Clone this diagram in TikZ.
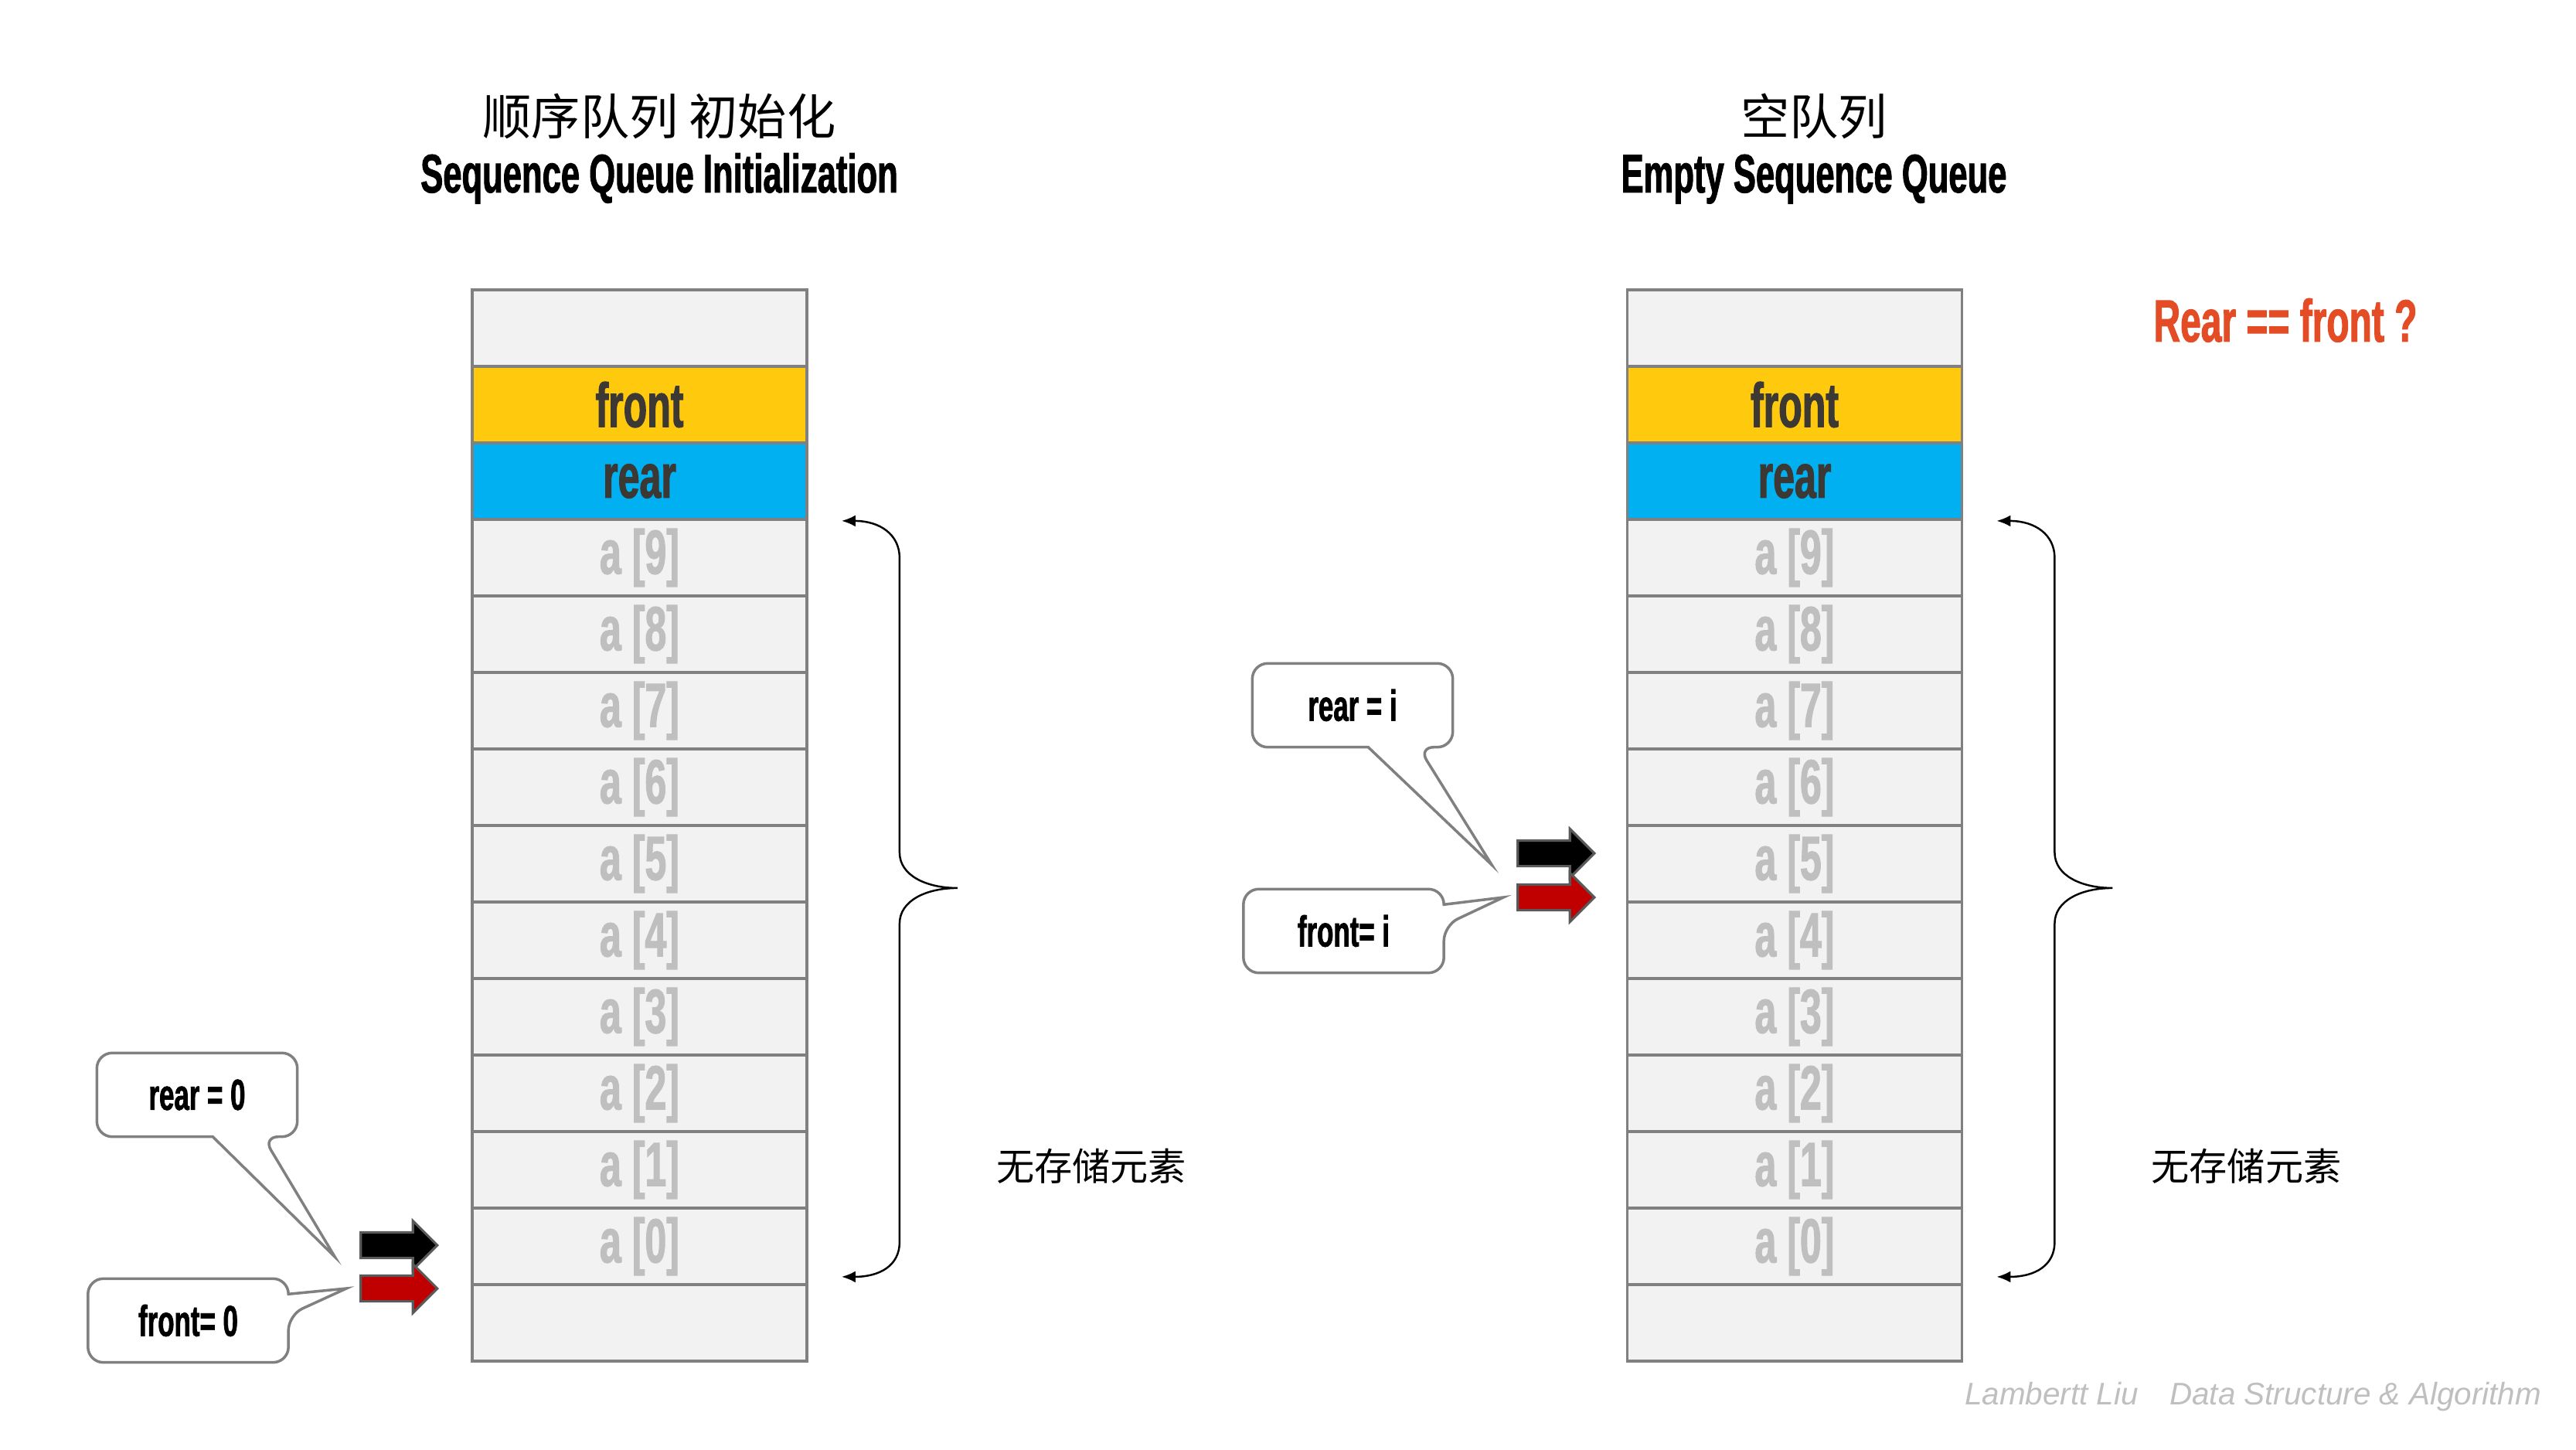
\documentclass[tikz,border=0pt]{standalone}
\usepackage{fontspec}
\usepackage{tikz}
\usetikzlibrary{shapes.arrows}
\usetikzlibrary{arrows.meta}

\newfontfamily\agency[FakeStretch=0.62,BoldFeatures={FakeBold=1.3}]{Liberation Sans}
\newfontfamily\cjk{Noto Sans CJK SC}
\newfontfamily\markfont{Liberation Sans}

\definecolor{frontyellow}{RGB}{255,201,14}
\definecolor{rearblue}{RGB}{0,176,240}
\definecolor{cellgray}{RGB}{242,242,242}
\definecolor{linegray}{RGB}{128,128,128}
\definecolor{labelgray}{RGB}{191,191,191}
\definecolor{darktext}{RGB}{60,56,52}
\definecolor{arrowred}{RGB}{192,0,0}
\definecolor{arrowedge}{RGB}{89,89,89}
\definecolor{askred}{RGB}{228,76,38}

\tikzset{
  cell/.style={draw=linegray, line width=1.1pt, fill=cellgray, minimum width=4.33cm,
    minimum height=0.99cm, inner sep=0pt, text=labelgray,
    font=\agency\bfseries\fontsize{23}{23}\selectfont},
  bubble/.style={minimum width=2.58cm, minimum height=1.07cm, inner sep=0pt,
    font=\agency\bfseries\fontsize{16}{16}\selectfont},
  callout/.style={draw=linegray, line width=1pt},
  ptr/.style={single arrow, draw=arrowedge, line width=0.9pt, inner xsep=0pt,
    inner ysep=0.15cm, single arrow head extend=0.15cm, minimum height=0.99cm, anchor=tip},
  brace/.style={line width=0.7pt, {Latex[length=0.18cm,width=0.15cm]}-{Latex[length=0.18cm,width=0.15cm]}},
}

\begin{document}
\begin{tikzpicture}
\useasboundingbox (0,0) rectangle (33.33,18.75);

% titles
\node[font=\cjk\fontsize{18}{18}\selectfont] (titleLcn) at (8.53,17.25) {顺序队列 初始化};
\node[anchor=base, font=\agency\bfseries\fontsize{20}{20}\selectfont] (titleLen) at (8.53,16.26) {Sequence Queue Initialization};
\node[font=\cjk\fontsize{18}{18}\selectfont] (titleRcn) at (23.47,17.25) {空队列};
\node[anchor=base, font=\agency\bfseries\fontsize{20}{20}\selectfont] (titleRen) at (23.47,16.26) {Empty Sequence Queue};

% the two queues with braces
\foreach \side/\x in {L/8.275, R/23.22}{
  \node[cell] (\side0) at (\x,14.505) {};
  \node[cell, fill=frontyellow, text=darktext] (\side1) at (\x,13.515) {front};
  \node[cell, fill=rearblue, text=darktext] (\side2) at (\x,12.525) {rear};
  \foreach \k [evaluate=\k as \i using int(12-\k)] in {9,...,0}
    \node[cell] (\side\i) at (\x,{15-0.99*(\i+0.5)}) {a [\k]};
  \node[cell] (\side13) at (\x,1.635) {};
  \coordinate (\side top) at ([xshift=0.43cm]\side2.south east);
  \draw[brace] (\side top) .. controls +(0.5,0) and +(0,0.3) .. ++(0.75,-0.48)
    -- ++(0,-3.81) .. controls +(0,-0.3) and +(-0.4,0) .. ++(0.75,-0.46)
    .. controls +(-0.4,0) and +(0,0.3) .. ++(-0.75,-0.46)
    -- ++(0,-4.12) .. controls +(0,-0.3) and +(0.5,0) .. ++(-0.75,-0.45);
  \node[font=\cjk\fontsize{14}{14}\selectfont] (\side none) at (\x+5.845,3.66) {无存储元素};
}

% pointers
\node[ptr, fill=black] (Lrearptr) at (5.68,2.64) {};
\node[ptr, fill=arrowred] (Lfrontptr) at (5.68,2.08) {};
\node[ptr, fill=black] (Rrearptr) at (20.65,7.71) {};
\node[ptr, fill=arrowred] (Rfrontptr) at (20.65,7.14) {};

% callouts
\node[bubble] (Lrear) at (2.55,4.585) {rear = 0};
\node[bubble] (Lfront) at (2.435,1.665) {front= 0};
\node[bubble] (Rrear) at (17.50,9.625) {rear = i};
\node[bubble] (Rfront) at (17.385,6.705) {front= i};

\foreach \side in {L,R}{
  \draw[callout] ([xshift=1.5cm]\side rear.south west) [rounded corners=0.2cm]
    -- (\side rear.south west) -- (\side rear.north west) -- (\side rear.north east)
    -- (\side rear.south east) -- ([xshift=2.15cm]\side rear.south west) [sharp corners]
    -- ([shift={(-0.32,-0.15)}]\side rearptr.tail) -- cycle;
  \draw[callout] ([yshift=-0.2cm]\side front.north east) [rounded corners=0.2cm]
    -- (\side front.north east) -- (\side front.north west) -- (\side front.south west)
    -- (\side front.south east) -- ([yshift=-0.47cm]\side front.north east) [sharp corners]
    -- ([xshift=-0.17cm]\side frontptr.tail) -- cycle;
}

\node[anchor=base, text=askred, font=\agency\bfseries\fontsize{22}{22}\selectfont] (ask) at (29.57,14.33) {Rear == front ?};
\node[text=labelgray, font=\markfont\itshape\fontsize{11.5}{11.5}\selectfont] (mark) at (29.15,0.68) {Lambertt Liu\quad Data Structure \& Algorithm};
\end{tikzpicture}
\end{document}
